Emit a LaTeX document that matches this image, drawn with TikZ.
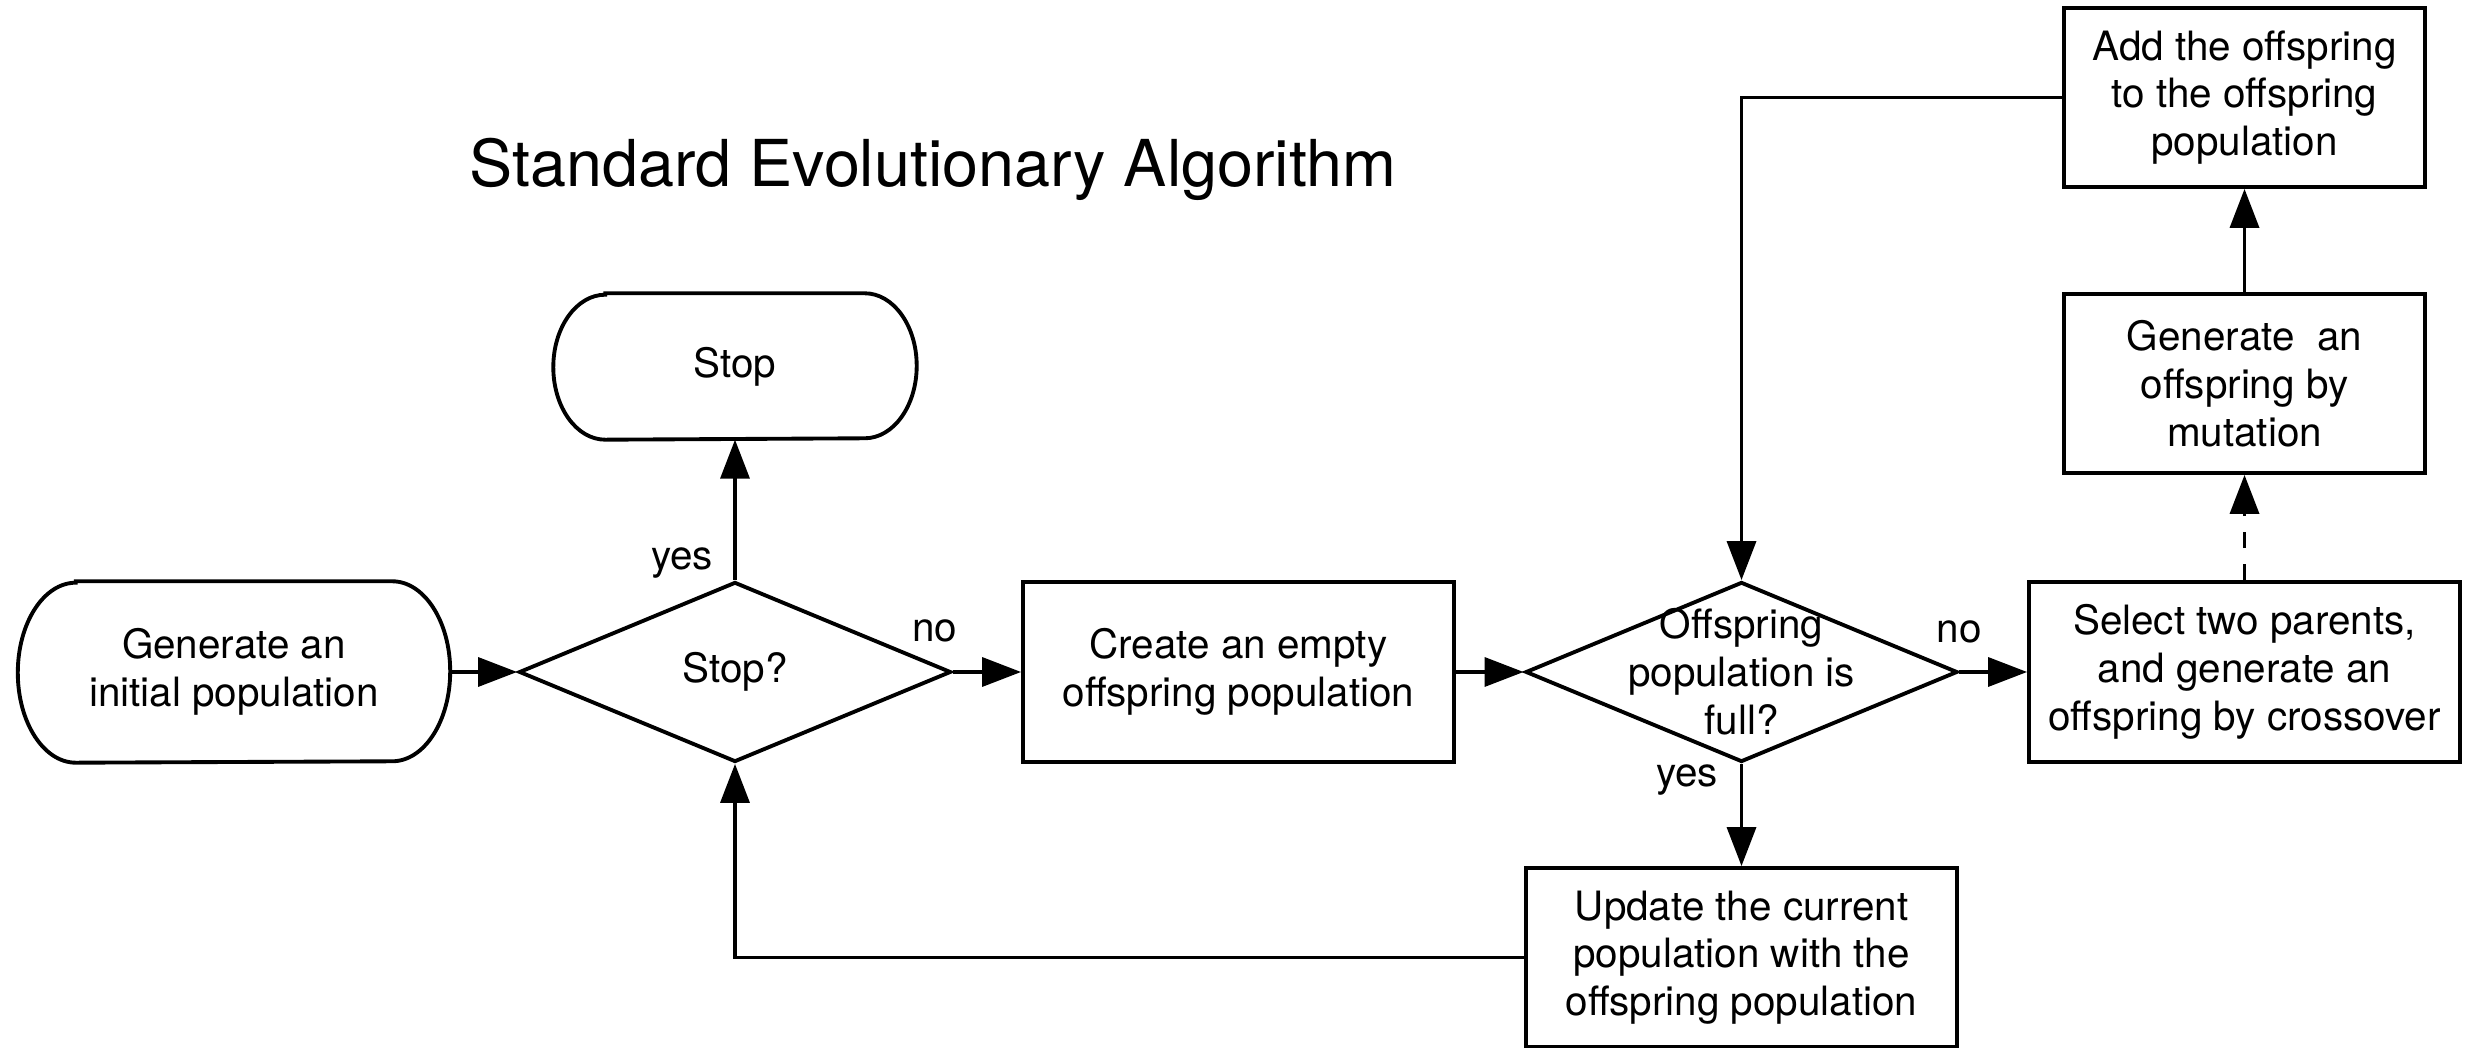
\documentclass[tikz,border=0pt]{standalone}
\usepackage{fontspec}
\setmainfont{TeX Gyre Heros}
\usetikzlibrary{shapes.geometric,arrows.meta}

\begin{document}
\begin{tikzpicture}[
    txt/.style={font=\fontsize{11.5}{13.6}\selectfont, align=center},
    box/.style={txt, draw, line width=1.1pt, rectangle, minimum width=4.31cm, minimum height=1.8cm, inner sep=0pt},
    terminal/.style={txt, rectangle, inner sep=0pt},
    decision/.style={txt, draw, line width=1.1pt, diamond, minimum width=4.32cm, minimum height=1.8cm, inner sep=0pt},
    flow/.style={line width=1pt, -{Triangle[length=0.39cm, width=0.29cm]}},
    lbl/.style={txt, inner sep=0pt}
]

    % Area del disegno
    \useasboundingbox (0,0) rectangle (24.68,10.48);

    % Titolo
    \node[anchor=base, font=\fontsize{18.4}{22}\selectfont] (title) at (9.33,8.61) {Standard Evolutionary Algorithm};

    % Blocchi
    \node[terminal, minimum width=4.31cm, minimum height=1.8cm] (start) at (2.34,3.76) {Generate an\\initial population};
    \node[decision] (stopq) at (7.35,3.76) {Stop?};
    \node[terminal, minimum width=3.62cm, minimum height=1.45cm] (stop) at (7.35,6.815) {Stop};
    \node[box] (create) at (12.385,3.76) {Create an empty\\offspring population};
    \node[decision, label={[txt]center:Offspring\\population is\\full?}] (full) at (17.415,3.76) {};
    \node[box] (select) at (22.445,3.76) {Select two parents,\\and generate an\\offspring by crossover};
    \node[box, minimum width=3.61cm, minimum height=1.79cm] (mutation) at (22.445,6.645) {Generate \ an\\offspring by\\mutation};
    \node[box, minimum width=3.61cm, minimum height=1.79cm] (add) at (22.445,9.505) {Add the offspring\\to the offspring\\population};
    \node[box, minimum height=1.79cm] (update) at (17.415,0.905) {Update the current\\population with the\\offspring population};

    % Contorni arrotondati (inizio e fine)
    \foreach \n/\rx/\ry in {start/0.58/0.9, stop/0.52/0.725} {
        \draw[line width=1.1pt] ([xshift=\rx cm]\n.north west) -- ([xshift=-\rx cm]\n.north east)
            arc[start angle=90, end angle=-90, x radius=\rx cm, y radius=\ry cm]
            -- ([xshift=\rx cm]\n.south west)
            arc[start angle=-90, end angle=-270, x radius=\rx cm, y radius=\ry cm] -- cycle;
    }

    % Collegamenti
    \draw[flow] (start) -- (stopq);
    \draw[flow] (stopq) -- (stop);
    \draw[flow] (stopq) -- (create);
    \draw[flow] (create) -- (full);
    \draw[flow] (full) -- (select);
    \draw[flow] (full) -- (update);
    \draw[flow, dash pattern=on 0.16cm off 0.16cm] (select) -- (mutation);
    \draw[flow] (mutation) -- (add);
    \draw[flow] (add.west) -| (full.north);
    \draw[flow] (update.west) -| (stopq.south);

    % Etichette
    \node[lbl] (yes1) at ([shift={(-0.53,0.17)}]stopq.north) {yes};
    \node[lbl] (no1) at ([shift={(-0.18,0.41)}]stopq.east) {no};
    \node[lbl] (no2) at ([shift={(0,0.40)}]full.east) {no};
    \node[lbl] (yes2) at ([shift={(-0.545,-0.16)}]full.south) {yes};

\end{tikzpicture}
\end{document}
